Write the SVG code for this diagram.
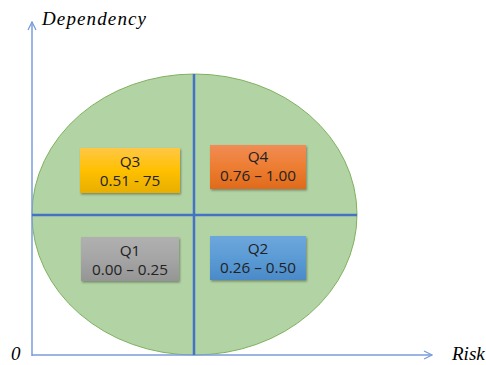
<svg xmlns="http://www.w3.org/2000/svg" width="486" height="365" viewBox="0 0 486 365">
<style>
.ax{stroke:#7A9CDA;stroke-width:1.5;fill:none}
.div{stroke:#4472C4;stroke-width:2.5;fill:none}
.lbl{font-family:"Liberation Serif",serif;font-style:italic;font-size:19px;fill:#000}
.bt{font-family:"Open Sans","Noto Sans",sans-serif;font-size:15.3px;fill:#222;text-anchor:middle}
</style>
<defs>
<marker id="arr" viewBox="0 0 10 10" refX="9" refY="5" markerWidth="10" markerHeight="10" markerUnits="userSpaceOnUse" orient="auto">
<path d="M1,1 L9,5 L1,9" fill="none" stroke="#7A9CDA" stroke-width="1.3"/>
</marker>
<linearGradient id="gY" x1="0" y1="0" x2="0" y2="1"><stop offset="0" stop-color="#FFC745"/><stop offset="0.5" stop-color="#FFC000"/><stop offset="1" stop-color="#E8AE00"/></linearGradient>
<linearGradient id="gO" x1="0" y1="0" x2="0" y2="1"><stop offset="0" stop-color="#F18C55"/><stop offset="0.5" stop-color="#ED7D31"/><stop offset="1" stop-color="#E06A1C"/></linearGradient>
<linearGradient id="gG" x1="0" y1="0" x2="0" y2="1"><stop offset="0" stop-color="#B0B0B0"/><stop offset="0.5" stop-color="#A5A5A5"/><stop offset="1" stop-color="#959595"/></linearGradient>
<linearGradient id="gB" x1="0" y1="0" x2="0" y2="1"><stop offset="0" stop-color="#6DA7DC"/><stop offset="0.5" stop-color="#5B9BD5"/><stop offset="1" stop-color="#4A8AC8"/></linearGradient>
<filter id="sh" x="-10%" y="-10%" width="130%" height="140%"><feDropShadow dx="1" dy="1.5" stdDeviation="1" flood-color="#000" flood-opacity="0.35"/></filter>
</defs>
<g id="ellipse">
<ellipse cx="194.5" cy="214.5" rx="162.5" ry="140.5" fill="#B2D3A4" stroke="#7FB15F" stroke-width="1"/>
</g>
<g id="connectors">
<line class="ax" x1="32" y1="356" x2="32" y2="22" marker-end="url(#arr)"/>
<line class="ax" x1="32" y1="355" x2="432" y2="355" marker-end="url(#arr)"/>
<line class="div" x1="194" y1="74" x2="194" y2="355"/>
<line class="div" x1="32" y1="215" x2="357" y2="215"/>
</g>
<g id="labels">
<text class="lbl" x="42" y="25" textLength="104" lengthAdjust="spacing">Dependency</text>
<text class="lbl" x="11" y="360">0</text>
<text class="lbl" x="452" y="360">Risk</text>
</g>
<g id="q3">
<rect x="80" y="148" width="100" height="45" fill="url(#gY)" filter="url(#sh)"/>
<text class="bt" x="130" y="167">Q3</text>
<text class="bt" x="130" y="186">0.51 - 75</text>
</g>
<g id="q4">
<rect x="210" y="145" width="96" height="44" fill="url(#gO)" filter="url(#sh)"/>
<text class="bt" x="258" y="162">Q4</text>
<text class="bt" x="258" y="181">0.76 – 1.00</text>
</g>
<g id="q1">
<rect x="81" y="237" width="98" height="44" fill="url(#gG)" filter="url(#sh)"/>
<text class="bt" x="130" y="256">Q1</text>
<text class="bt" x="130" y="275">0.00 – 0.25</text>
</g>
<g id="q2">
<rect x="210" y="236" width="96" height="44" fill="url(#gB)" filter="url(#sh)"/>
<text class="bt" x="258" y="254">Q2</text>
<text class="bt" x="258" y="273">0.26 – 0.50</text>
</g>
</svg>
